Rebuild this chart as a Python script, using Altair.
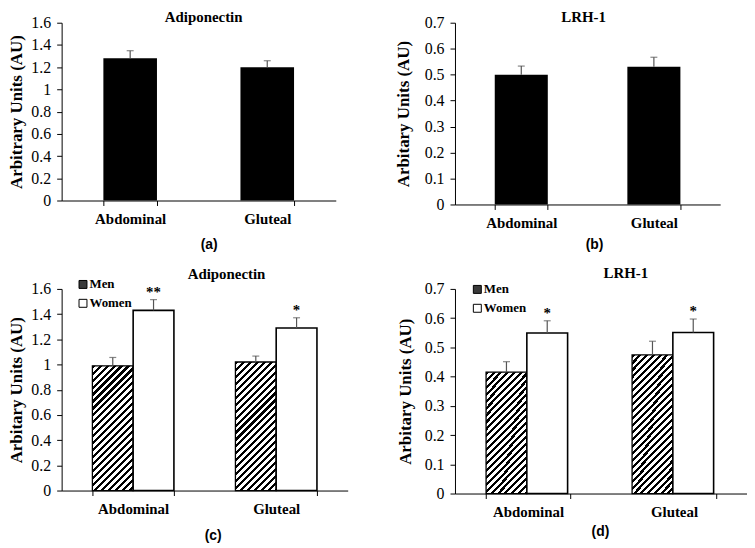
import altair as alt
import pandas as pd

SITES = ["Abdominal", "Gluteal"]
SEXES = ["Men", "Women"]

A_MEAN = [1.28, 1.20]
A_ERR = [0.068, 0.058]
A_TICKS = [0, 0.2, 0.4, 0.6, 0.8, 1.0, 1.2, 1.4, 1.6]

B_MEAN = [0.50, 0.53]
B_ERR = [0.033, 0.037]
B_TICKS = [0, 0.1, 0.2, 0.3, 0.4, 0.5, 0.6, 0.7]

C_MEN = [0.99, 1.02]
C_MEN_ERR = [0.066, 0.047]
C_WOMEN = [1.43, 1.29]
C_WOMEN_ERR = [0.085, 0.081]
C_SIG = ["**", "*"]

D_MEN = [0.415, 0.474]
D_MEN_ERR = [0.036, 0.047]
D_WOMEN = [0.549, 0.551]
D_WOMEN_ERR = [0.042, 0.046]
D_SIG = ["*", "*"]

SERIF = "Liberation Serif, Times New Roman, Times, serif"
SANS = "Liberation Sans, Arial, Helvetica, sans-serif"
ERR_COLOR = "#555555"


def hatch(w, h, period=7.0, frac=0.45):
    n = (w + h) / period
    c = (w + h) / (w * w + h * h)
    stops = []
    k = 0
    while k < n:
        a = k / n
        m = min((k + frac) / n, 1.0)
        e = min((k + 1) / n, 1.0)
        stops += [
            {"offset": a, "color": "black"},
            {"offset": m, "color": "black"},
            {"offset": m, "color": "white"},
            {"offset": e, "color": "white"},
        ]
        k += 1
    return {"gradient": "linear", "x1": 0, "y1": 0, "x2": c * w, "y2": c * h, "stops": stops}


def y_axis(title, ticks, title_pad):
    return alt.Axis(
        values=ticks, format="~g", grid=False,
        labelFont=SERIF, labelFontSize=16, labelColor="black", labelPadding=6,
        tickSize=5, tickColor="black", domainColor="black",
        title=title, titleFont=SERIF, titleFontSize=17, titleFontWeight="bold",
        titleColor="black", titlePadding=title_pad,
    )


def x_axis(title, title_pad, title_x):
    return alt.Axis(
        labelAngle=0, labelFont=SERIF, labelFontSize=15, labelFontWeight="bold",
        labelColor="black", labelPadding=6, tickBand="extent", tickSize=5,
        tickColor="black", domainColor="black",
        title=title, titleFont=SANS, titleFontSize=14, titleFontWeight="bold",
        titleColor="black", titlePadding=title_pad, titleX=title_x,
    )


def panel_title(text, dx, dy):
    return alt.Title(text, font=SERIF, fontSize=15, fontWeight="bold", color="black",
                     anchor="middle", frame="group", offset=0, dx=dx, dy=dy)


def simple_panel(title, means, errs, ymax, ticks, ytitle, width, height, pi,
                 xtitle, xtitle_pad, xtitle_x, ytitle_pad, tdx, tdy):
    df = pd.DataFrame({"site": SITES, "mean": means,
                       "top": [m + e for m, e in zip(means, errs)]})
    xs = alt.X("site:N", sort=SITES,
               scale=alt.Scale(domain=SITES, paddingInner=pi, paddingOuter=pi / 2),
               axis=x_axis(xtitle, xtitle_pad, xtitle_x))
    ysc = alt.Scale(domain=[0, ymax], nice=False)
    yax = y_axis(ytitle, ticks, ytitle_pad)
    base = alt.Chart(df).encode(x=xs)
    bars = base.mark_bar(color="black").encode(y=alt.Y("mean:Q", scale=ysc, axis=yax))
    rule = base.mark_rule(color=ERR_COLOR, strokeWidth=1.2).encode(
        y=alt.Y("mean:Q", scale=ysc, axis=yax), y2="top:Q")
    cap = base.mark_tick(color=ERR_COLOR, size=7, thickness=1.2).encode(
        y=alt.Y("top:Q", scale=ysc, axis=yax))
    return alt.layer(bars, rule, cap).properties(
        width=width, height=height, title=panel_title(title, tdx, tdy))


def grouped_panel(title, men, men_err, women, women_err, sig, ymax, ticks, ytitle,
                  width, height, pi, xtitle, xtitle_pad, xtitle_x, ytitle_pad,
                  tdx, tdy, leg_x, leg_y):
    rows = []
    for i, s in enumerate(SITES):
        rows.append({"site": s, "sex": "Men", "mean": men[i],
                     "top": men[i] + men_err[i], "sig": ""})
        rows.append({"site": s, "sex": "Women", "mean": women[i],
                     "top": women[i] + women_err[i], "sig": sig[i]})
    df = pd.DataFrame(rows)
    step = width / 2.0
    bw = step * (1 - pi) / 2.0
    hatch_a = hatch(bw, men[0] / ymax * height)
    hatch_g = hatch(bw, men[1] / ymax * height)

    xs = alt.X("site:N", sort=SITES,
               scale=alt.Scale(domain=SITES, paddingInner=pi, paddingOuter=pi / 2),
               axis=x_axis(xtitle, xtitle_pad, xtitle_x))
    xo = alt.XOffset("sex:N", sort=SEXES,
                     scale=alt.Scale(domain=SEXES, paddingInner=0, paddingOuter=0))
    ysc = alt.Scale(domain=[0, ymax], nice=False)
    yax = y_axis(ytitle, ticks, ytitle_pad)
    base = alt.Chart(df).encode(x=xs, xOffset=xo)

    men_bars = base.transform_filter(alt.datum.sex == "Men").mark_bar(
        stroke="black", strokeWidth=1.3).encode(
        y=alt.Y("mean:Q", scale=ysc, axis=yax),
        fill=alt.condition(alt.datum.site == "Abdominal", alt.value(hatch_a), alt.value(hatch_g)))
    women_bars = base.transform_filter(alt.datum.sex == "Women").mark_bar(
        fill="white", stroke="black", strokeWidth=1.6).encode(
        y=alt.Y("mean:Q", scale=ysc, axis=yax))
    rule = base.mark_rule(color=ERR_COLOR, strokeWidth=1.2).encode(
        y=alt.Y("mean:Q", scale=ysc, axis=yax), y2="top:Q")
    cap = base.mark_tick(color=ERR_COLOR, size=7, thickness=1.2).encode(
        y=alt.Y("top:Q", scale=ysc, axis=yax))
    stars = base.mark_text(font=SERIF, fontSize=15, fontWeight="bold", color="black",
                           baseline="alphabetic", dy=-3).encode(
        y=alt.Y("top:Q", scale=ysc, axis=yax), text="sig:N")
    legend_layer = base.mark_square(opacity=0, size=1).encode(
        y=alt.Y("mean:Q", scale=ysc, axis=yax),
        fill=alt.Fill("sex:N", scale=alt.Scale(domain=SEXES, range=["#3a3a3a", "white"]),
                      legend=alt.Legend(
                          title=None, orient="none", legendX=leg_x, legendY=leg_y,
                          padding=0, symbolType="square", symbolSize=64,
                          symbolOpacity=1, symbolStrokeColor="black",
                          symbolStrokeWidth=1, labelFont=SERIF, labelFontSize=13,
                          labelFontWeight="bold", labelColor="black",
                          labelOffset=0, rowPadding=5)))
    return alt.layer(men_bars, women_bars, rule, cap, stars, legend_layer).properties(
        width=width, height=height, title=panel_title(title, tdx, tdy))


pa = simple_panel("Adiponectin", A_MEAN, A_ERR, 1.6, A_TICKS, "Arbitrary Units (AU)",
                  276, 179, 0.609, "(a)", 11, 148, 5, 5, 10)
pb = simple_panel("LRH-1", B_MEAN, B_ERR, 0.7, B_TICKS, "Arbitary Units (AU)",
                  267, 183, 0.6, "(b)", 7, 140, 12, -4, 10)
pc = grouped_panel("Adiponectin", C_MEN, C_MEN_ERR, C_WOMEN, C_WOMEN_ERR, C_SIG,
                   1.6, A_TICKS, "Arbitary Units (AU)", 288, 203, 0.43,
                   "(c)", 12, 152, 5, 22, 4, 15, -11)
pd_ = grouped_panel("LRH-1", D_MEN, D_MEN_ERR, D_WOMEN, D_WOMEN_ERR, D_SIG,
                    0.7, B_TICKS, "Arbitary Units (AU)", 294, 206, 0.426,
                    "(d)", 5, 146, 10, 25, 0, 16, -6)

chart = alt.concat(pa, pb, pc, pd_, columns=2, spacing={"row": 85, "column": 108},
                   bounds="flush", align="each").properties(
    padding={"left": 0, "top": 0, "right": 0, "bottom": 0}
).configure_view(strokeWidth=0).resolve_scale(x="independent", y="independent", fill="independent")

chart.save("out.html", embed_options={"renderer": "svg", "actions": False})
